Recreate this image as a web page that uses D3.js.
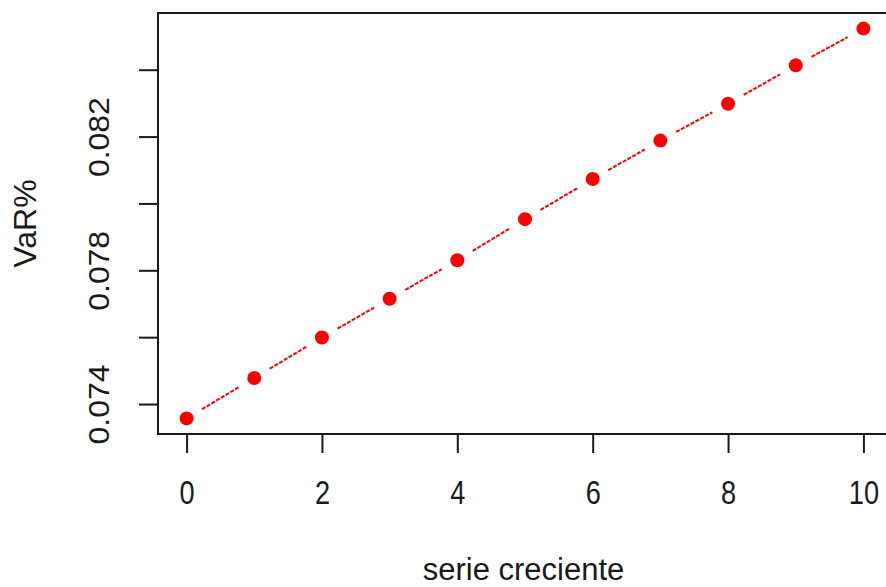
<!DOCTYPE html>
<html><head><meta charset="utf-8">
<script src="https://cdn.jsdelivr.net/npm/d3@7"></script>
<style>body{margin:0;background:#fff}svg{display:block}</style>
</head><body>
<script>
const xValues = [0,1,2,3,4,5,6,7,8,9,10];
const varValues = [0.07357,0.07478,0.07599,0.07715,0.07830,0.07953,0.08073,0.08188,0.08298,0.08413,0.08523];
const xTicks = [0,2,4,6,8,10];
const yTicks = [0.074,0.076,0.078,0.080,0.082,0.084];
const yTickLabels = ["0.074","","0.078","","0.082",""];
const xLabel = "serie creciente";
const yLabel = "VaR%";

const W=886,H=587;
const L=159.5,R=890.5,T=13,B=434;
const svg=d3.select("body").append("svg").attr("width",W).attr("height",H);
const font="'Liberation Sans', Arial, sans-serif";
const ink="#1a1a1a";

const xe=d3.extent(xValues), xp=(xe[1]-xe[0])*0.04;
const ye=d3.extent(varValues), yp=(ye[1]-ye[0])*0.04;
const x=d3.scaleLinear().domain([xe[0]-xp,xe[1]+xp]).range([L,R]);
const y=d3.scaleLinear().domain([ye[0]-yp,ye[1]+yp]).range([B,T]);

// dashed segments with gaps around points (type="b")
const gap=18;
const pts=xValues.map((v,i)=>[x(v),y(varValues[i])]);
for(let i=0;i<pts.length-1;i++){
  const [x0,y0]=pts[i],[x1,y1]=pts[i+1];
  const dx=x1-x0,dy=y1-y0,len=Math.hypot(dx,dy);
  if(len<=2*gap) continue;
  const ux=dx/len,uy=dy/len;
  svg.append("line")
    .attr("x1",x0+ux*gap).attr("y1",y0+uy*gap)
    .attr("x2",x1-ux*gap).attr("y2",y1-uy*gap)
    .attr("stroke","#ff0000").attr("stroke-width",2)
    .attr("stroke-dasharray","4,1.5");
}
svg.selectAll("circle.pt").data(pts).enter().append("circle")
  .attr("cx",d=>d[0]).attr("cy",d=>d[1]).attr("r",7).attr("fill","#ff0000");

// box
svg.append("rect").attr("x",L-1.5).attr("y",T).attr("width",R-L+1.5).attr("height",B-T)
  .attr("fill","none").attr("stroke",ink).attr("stroke-width",2);

// x axis
const xa=svg.append("g").attr("transform",`translate(0,${B})`)
  .call(d3.axisBottom(x).tickValues(xTicks).tickSize(19).tickFormat(d3.format("d")));
xa.select(".domain").remove();
xa.selectAll("line").attr("stroke",ink).attr("stroke-width",2);
xa.selectAll("text").attr("font-family",font).attr("font-size",28).attr("fill",ink)
  .attr("y",null).attr("dy",null).attr("transform","translate(0,70) scale(0.97,1.18)");

// y axis
const ya=svg.append("g").attr("transform",`translate(${L-1.5},0)`)
  .call(d3.axisLeft(y).tickValues(yTicks).tickSize(19).tickFormat((d,i)=>yTickLabels[i]));
ya.select(".domain").remove();
ya.selectAll("line").attr("stroke",ink).attr("stroke-width",2);
ya.selectAll("text").attr("font-family",font).attr("font-size",29).attr("fill",ink)
  .attr("text-anchor","middle").attr("dy",null).attr("x",null)
  .attr("transform","translate(-49,0) rotate(-90) scale(1.1,1)");

svg.append("text").attr("x",523.5).attr("y",580).attr("text-anchor","middle")
  .attr("font-family",font).attr("font-size",31).attr("fill",ink).text(xLabel);
svg.append("text").attr("transform","translate(36,223.5) rotate(-90)").attr("text-anchor","middle")
  .attr("font-family",font).attr("font-size",32).attr("fill",ink).text(yLabel);
</script>
</body></html>
